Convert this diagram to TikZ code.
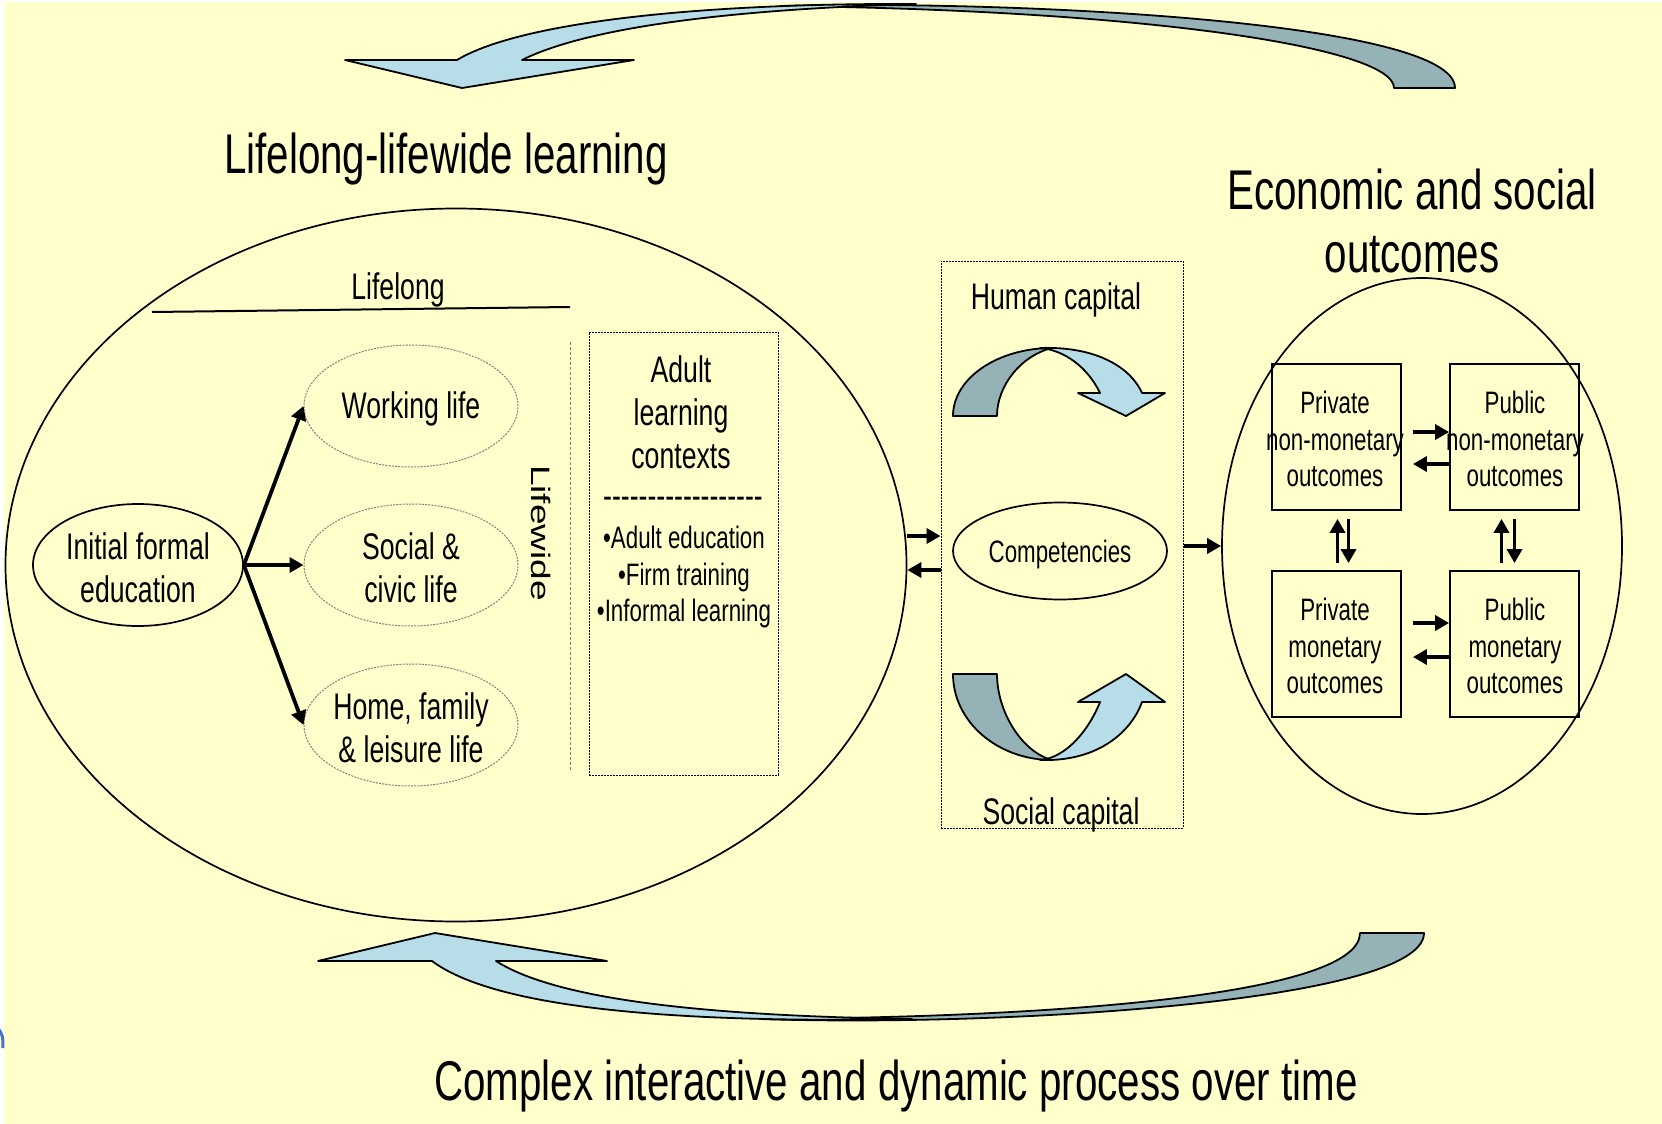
\documentclass[tikz,border=0pt]{standalone}
\usepackage{fontspec}
\setmainfont{Liberation Sans}[FakeStretch=0.72]
\newfontfamily\plainsans{Liberation Sans}
\usetikzlibrary{shapes.geometric, arrows.meta}
\definecolor{bg}{HTML}{FFFFCC}
\definecolor{lightarr}{HTML}{B7DDE8}
\definecolor{darkarr}{HTML}{95B3B7}
\definecolor{edgeblue}{HTML}{4472C4}
\newcommand\myhy{-\kern0pt}
\begin{document}
\begin{tikzpicture}[x=1pt,y=-1pt,
  big/.style={font=\fontsize{56}{63}\selectfont, align=center, inner sep=0},
  mid/.style={font=\fontsize{37}{43}\selectfont, align=center, inner sep=0},
  small/.style={font=\fontsize{31}{36.5}\selectfont, align=center, inner sep=0},
  oval/.style={draw, ellipse, line width=1.7pt, inner sep=0},
  dotoval/.style={draw=gray, ellipse, dash pattern=on 2pt off 1.2pt, line width=1pt, inner sep=0, minimum width=214pt, minimum height=122pt},
  obox/.style={draw, line width=1.8pt, minimum width=129pt, minimum height=146pt, inner sep=0},
  dotbox/.style={draw, dash pattern=on 2pt off 1pt, line width=1pt, inner sep=0},
  arr/.style={line width=3.8pt, -{Triangle[length=14pt,width=15pt]}},
  fancy/.style={draw, line width=1.8pt, line join=round}
]
% background
\fill[white] (0,0) rectangle (1662,1124);
\fill[bg] (4,2) rectangle (1662,1124);
\useasboundingbox (0,0) rectangle (1662,1124);
\draw[edgeblue, line width=3pt] (-2,1028) .. controls (3,1036) .. (3,1048);

% top big curved arrow
\draw[fancy, fill=darkarr] (780,6) .. controls (1000,0) and (1455,20) .. (1455,88) -- (1394,88) .. controls (1394,48) and (1150,10) .. (780,6) -- cycle;
\draw[fancy, fill=lightarr] (345,60) -- (457,60) .. controls (520,22) and (700,3) .. (916,4) .. controls (740,9) and (590,26) .. (522,60) -- (634,60) -- (462,88) -- cycle;

% bottom big curved arrow
\draw[fancy, fill=darkarr] (760,1019) .. controls (1000,1027) and (1424,1002) .. (1424,933) -- (1360,933) .. controls (1360,990) and (1100,1017) .. (760,1019) -- cycle;
\draw[fancy, fill=lightarr] (318,961) -- (435,933) -- (607,961) -- (496,961) .. controls (560,1002) and (720,1016) .. (912,1019) .. controls (700,1023) and (500,1012) .. (432,961) -- cycle;

% titles
\node[big] (ttl) at (446,159) {Lifelong-lifewide learning};
\node[big] (econ) at (1412,221) {Economic and social\\outcomes};
\node[big] (cplx) at (896,1086) {Complex interactive and dynamic process over time};

% left ellipse
\node[oval, minimum width=901pt, minimum height=713pt] (lifeell) at (456,565) {};
\node[mid] (lifelong) at (398,290) {Lifelong};
\coordinate (ll1) at (152,312);
\coordinate (ll2) at (570,307);
\draw[line width=2pt] (ll1) -- (ll2);
\node[rotate=-90, inner sep=0, font=\fontsize{37}{43}\selectfont\plainsans] (lifewide) at (541,533) {\scalebox{1}[0.72]{Lifewide}};
\coordinate (lw1) at (570,342);
\coordinate (lw2) at (570,772);
\draw[gray, dash pattern=on 3pt off 2pt, line width=1pt] (lw1) -- (lw2);

\node[dotbox, minimum width=189pt, minimum height=443pt] (adultbox) at (683.5,553.5) {};
\node[mid] (adult) at (681,412) {Adult\\learning\\contexts};
\node[mid] (sep) at (683,503) {\myhy\myhy\myhy\myhy\myhy\myhy\myhy\myhy\myhy\myhy\myhy\myhy\myhy\myhy\myhy\myhy\myhy\myhy};
\node[small] (items) at (684,577) {•Adult education\\•Firm training\\•Informal learning};

\node[oval, minimum width=210pt, minimum height=122pt] (init) at (138,565) {};
\node[dotoval] (work) at (411,406) {};
\node[dotoval] (soc) at (411,565) {};
\node[dotoval] (home) at (411,725) {};
\node[mid] (initt) at (138,568) {Initial formal\\education};
\node[mid] (workt) at (411,409) {Working life};
\node[mid] (soct) at (411,568) {Social \&\\civic life};
\node[mid] (homet) at (411,728) {Home, family\\\& leisure life};
\draw[arr] (init.east) -- (work.west);
\draw[arr] (init.east) -- (soc.west);
\draw[arr] (init.east) -- (home.west);

% middle box
\node[dotbox, minimum width=242pt, minimum height=567pt] (capbox) at (1062,544.5) {};
\node[mid] (human) at (1056,300) {Human capital};
\node[mid] (social) at (1061,815) {Social capital};
\node[oval, minimum width=214pt, minimum height=97pt] (comp) at (1060,551) {};
\node[small] (compt) at (1060,554) {Competencies};

% middle curved arrows
\draw[fancy, fill=darkarr] (953,416) .. controls (953,378) and (998,348) .. (1052,348) .. controls (1022,355) and (997,385) .. (997,416) -- cycle;
\draw[fancy, fill=lightarr] (1040,348) .. controls (1100,346) and (1132,370) .. (1142,393) -- (1165,393) -- (1126,416) -- (1078,393) -- (1100,393) .. controls (1088,368) and (1065,350) .. (1040,348) -- cycle;
\draw[fancy, fill=darkarr] (953,674) .. controls (953,722) and (998,760) .. (1052,760) .. controls (1022,752) and (997,712) .. (997,674) -- cycle;
\draw[fancy, fill=lightarr] (1040,760) .. controls (1100,762) and (1132,730) .. (1142,702) -- (1165,702) -- (1126,674) -- (1078,702) -- (1100,702) .. controls (1088,732) and (1065,758) .. (1040,760) -- cycle;

\draw[arr] ([yshift=29pt]lifeell.east) -- ([yshift=29pt]lifeell.east -| capbox.west);
\draw[arr] ([yshift=-5pt]lifeell.east -| capbox.west) -- ([yshift=-5pt]lifeell.east);

% right ellipse
\node[oval, minimum width=400pt, minimum height=536pt] (rightell) at (1422,546) {};
\draw[arr] (rightell.west -| capbox.east) -- (rightell.west);

\node[obox] (pnm) at (1336.5,437) {};
\node[obox] (pubnm) at (1514.5,437) {};
\node[obox] (pm) at (1336.5,644) {};
\node[obox] (pubm) at (1514.5,644) {};
\node[small] (pnmt) at (1335,439) {Private\\non-monetary\\outcomes};
\node[small] (pubnmt) at (1515,439) {Public\\non-monetary\\outcomes};
\node[small] (pmt) at (1335,646) {Private\\monetary\\outcomes};
\node[small] (pubmt) at (1515,646) {Public\\monetary\\outcomes};

\draw[arr] ([xshift=11pt,yshift=5pt]pnm.east) -- ([yshift=5pt]pubnm.west);
\draw[arr] ([yshift=-27pt]pubnm.west) -- ([xshift=11pt,yshift=-27pt]pnm.east);
\draw[arr] ([xshift=11pt,yshift=21pt]pm.east) -- ([yshift=21pt]pubm.west);
\draw[arr] ([yshift=-13pt]pubm.west) -- ([xshift=11pt,yshift=-13pt]pm.east);
\draw[arr] ([xshift=1pt,yshift=7pt]pm.north) -- ([xshift=1pt,yshift=-8pt]pnm.south);
\draw[arr] ([xshift=12pt,yshift=-8pt]pnm.south) -- ([xshift=12pt,yshift=7pt]pm.north);
\draw[arr] ([xshift=-13pt,yshift=7pt]pubm.north) -- ([xshift=-13pt,yshift=-8pt]pubnm.south);
\draw[arr] ([yshift=-8pt]pubnm.south) -- ([yshift=7pt]pubm.north);
\end{tikzpicture}
\end{document}
